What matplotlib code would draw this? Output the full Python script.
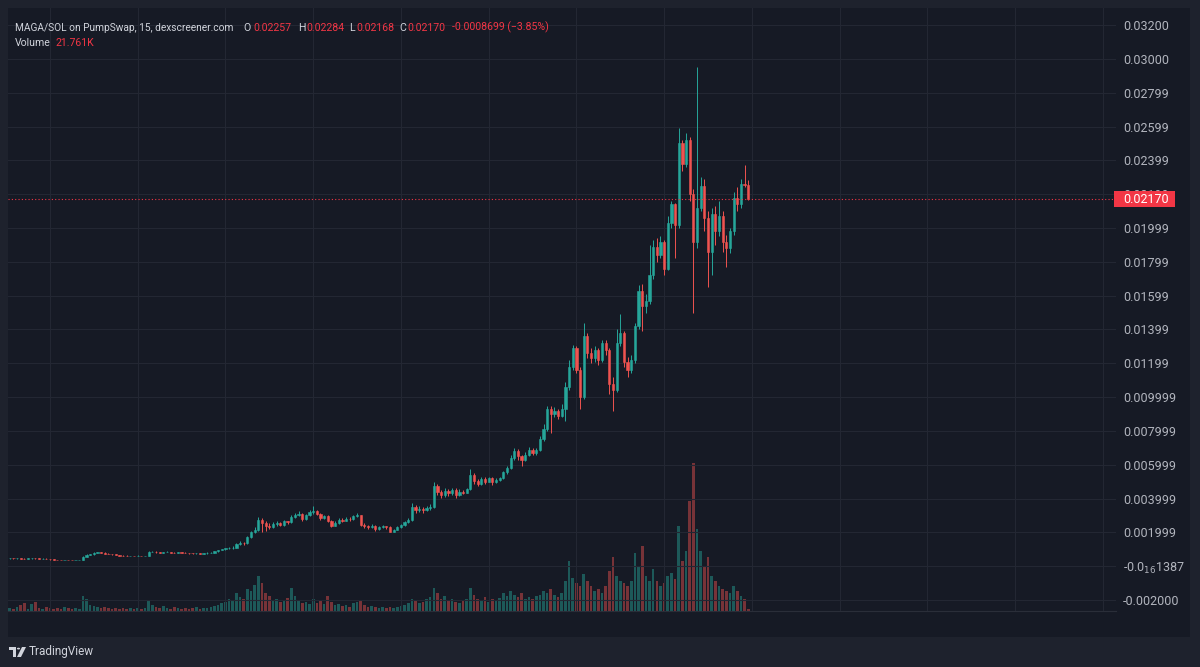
import numpy as np
import matplotlib
matplotlib.use('Agg')
import matplotlib.pyplot as plt
from matplotlib.patches import Rectangle, Polygon, Circle
from matplotlib import transforms

plt.rcParams['font.family'] = ['Roboto', 'DejaVu Sans']

# 30 min candles, prices in thousandths of SOL (x1e-3)
first_open_m = 0.47
close_m = [0.47, 0.46, 0.47, 0.45, 0.44, 0.46, 0.47, 0.46, 0.45, 0.45,
           0.44, 0.40, 0.38, 0.37, 0.36, 0.37, 0.36, 0.35, 0.36, 0.37,
           0.55, 0.68, 0.70, 0.80, 0.82, 0.80, 0.74, 0.72, 0.70, 0.68,
           0.63, 0.62, 0.60, 0.61, 0.60, 0.62, 0.60, 0.61, 0.85, 0.86,
           0.82, 0.80, 0.83, 0.85, 0.80, 0.78, 0.82, 0.80, 0.78, 0.77,
           0.76, 0.78, 0.75, 0.77, 0.78, 0.80, 0.88, 0.95, 1.00, 1.05,
           1.08, 1.10, 1.30, 1.38, 1.35, 1.70, 2.00, 2.15, 2.75, 2.55,
           2.35, 2.30, 2.50, 2.55, 2.45, 2.65, 2.60, 2.90, 3.05, 3.10,
           2.80, 3.00, 3.20, 3.25, 3.10, 2.85, 2.95, 2.70, 2.40, 2.55,
           2.75, 2.70, 2.80, 2.78, 2.95, 3.00, 2.45, 2.35, 2.30, 2.40,
           2.20, 2.30, 2.35, 2.30, 2.05, 2.15, 2.30, 2.45, 2.60, 2.75,
           3.50, 3.30, 3.40, 3.30, 3.45, 3.50, 4.75, 4.40, 4.20, 4.45,
           4.30, 4.50, 4.20, 4.40, 4.35, 4.55, 5.40, 5.05, 4.85, 5.15,
           5.00, 5.20, 4.95, 5.10, 5.20, 5.55, 5.80, 6.40, 6.80, 6.50,
           6.30, 6.60, 6.90, 6.70, 6.85, 7.50, 8.10, 9.30, 9.00, 9.20,
           8.90, 9.30, 10.60, 11.80, 12.90, 11.60, 10.00, 13.60, 12.60, 12.30,
           12.80, 12.20, 13.20, 12.80, 10.80, 10.40, 13.20, 13.80, 12.10, 11.60,
           12.20, 14.20, 16.30, 15.40, 15.70, 17.20, 18.90, 18.40, 19.20, 17.60,
           20.30, 21.40, 20.20, 25.00, 23.80, 25.20, 22.00, 19.20, 21.20, 22.50,
           20.60, 18.60, 20.80, 19.80, 20.70, 19.20, 18.80, 19.80, 21.80, 21.40,
           22.60, 22.57, 21.70]
high_m = [0.49, 0.48, 0.49, 0.48, 0.46, 0.48, 0.49, 0.48, 0.47, 0.47,
          0.46, 0.45, 0.41, 0.39, 0.38, 0.39, 0.38, 0.37, 0.38, 0.39,
          0.58, 0.70, 0.74, 0.84, 0.86, 0.84, 0.81, 0.76, 0.74, 0.72,
          0.69, 0.65, 0.64, 0.63, 0.62, 0.64, 0.63, 0.63, 0.90, 0.90,
          0.88, 0.84, 0.86, 0.88, 0.86, 0.82, 0.85, 0.84, 0.82, 0.80,
          0.79, 0.80, 0.79, 0.79, 0.81, 0.83, 0.92, 0.98, 1.04, 1.10,
          1.12, 1.20, 1.36, 1.48, 1.45, 1.76, 2.08, 2.30, 2.90, 2.85,
          2.65, 2.55, 2.60, 2.65, 2.62, 2.72, 2.70, 3.00, 3.15, 3.25,
          3.15, 3.10, 3.30, 3.55, 3.35, 3.15, 3.05, 3.00, 2.75, 2.65,
          2.85, 2.85, 2.88, 2.88, 3.05, 3.12, 3.05, 2.55, 2.45, 2.48,
          2.45, 2.38, 2.42, 2.40, 2.35, 2.20, 2.35, 2.50, 2.70, 2.85,
          3.75, 3.60, 3.55, 3.50, 3.55, 3.65, 4.95, 4.85, 4.50, 4.60,
          4.55, 4.60, 4.60, 4.55, 4.50, 4.65, 5.75, 5.50, 5.15, 5.30,
          5.25, 5.30, 5.25, 5.20, 5.30, 5.65, 5.95, 6.55, 7.00, 6.95,
          6.60, 6.75, 7.05, 7.00, 7.00, 7.70, 8.40, 9.50, 9.45, 9.40,
          9.30, 9.60, 10.90, 12.20, 13.10, 13.00, 11.80, 14.40, 13.80, 12.90,
          13.00, 12.90, 13.40, 13.40, 12.90, 11.20, 14.00, 14.90, 13.90, 12.40,
          12.50, 14.40, 16.60, 16.70, 16.10, 19.00, 19.30, 19.40, 19.50, 19.30,
          20.70, 21.60, 21.50, 25.90, 25.20, 25.60, 25.40, 22.30, 29.50, 23.00,
          22.90, 21.00, 21.20, 21.30, 21.60, 21.00, 19.60, 20.00, 22.10, 22.40,
          22.90, 23.70, 22.84]
low_m = [0.45, 0.45, 0.45, 0.44, 0.43, 0.43, 0.45, 0.45, 0.44, 0.44,
         0.42, 0.38, 0.36, 0.35, 0.35, 0.35, 0.34, 0.34, 0.34, 0.35,
         0.36, 0.54, 0.66, 0.69, 0.78, 0.77, 0.72, 0.70, 0.68, 0.66,
         0.61, 0.60, 0.58, 0.58, 0.58, 0.59, 0.58, 0.59, 0.60, 0.82,
         0.80, 0.78, 0.78, 0.81, 0.78, 0.76, 0.77, 0.78, 0.76, 0.75,
         0.74, 0.74, 0.73, 0.73, 0.75, 0.76, 0.78, 0.86, 0.93, 0.97,
         1.02, 1.04, 1.08, 1.25, 1.25, 1.32, 1.65, 1.95, 2.10, 2.05,
         2.10, 2.20, 2.25, 2.40, 2.35, 2.40, 2.50, 2.55, 2.85, 2.95,
         2.70, 2.75, 2.95, 3.10, 3.00, 2.75, 2.80, 2.60, 2.30, 2.35,
         2.50, 2.62, 2.65, 2.70, 2.75, 2.90, 2.35, 2.25, 2.20, 2.25,
         2.10, 2.15, 2.25, 2.22, 2.00, 2.00, 2.12, 2.25, 2.40, 2.55,
         2.70, 3.15, 3.20, 3.15, 3.25, 3.35, 3.45, 4.20, 4.05, 4.10,
         4.15, 4.20, 4.05, 4.15, 4.25, 4.30, 4.50, 4.85, 4.75, 4.80,
         4.85, 4.95, 4.80, 4.90, 5.05, 5.15, 5.45, 5.75, 6.30, 6.30,
         5.90, 6.20, 6.50, 6.55, 6.60, 6.80, 7.40, 8.00, 7.90, 8.80,
         8.70, 8.80, 8.60, 10.40, 11.60, 11.40, 9.30, 9.90, 12.30, 12.00,
         12.10, 11.90, 12.10, 12.50, 10.20, 9.20, 10.30, 13.00, 11.80, 11.20,
         11.40, 12.00, 14.00, 13.90, 15.00, 15.50, 17.00, 18.00, 18.20, 17.20,
         17.50, 20.00, 18.20, 20.00, 23.40, 23.60, 21.60, 15.00, 18.80, 21.00,
         19.80, 16.50, 17.20, 19.00, 19.50, 18.60, 17.70, 18.50, 19.60, 21.00,
         21.20, 22.40, 21.68]
vol_k = [30, 20, 40, 60, 80, 20, 70, 90, 30, 20,
         40, 30, 20, 30, 20, 40, 30, 20, 30, 20,
         150, 120, 60, 50, 40, 30, 40, 30, 20, 30,
         20, 30, 20, 30, 20, 30, 20, 30, 100, 60,
         40, 30, 50, 30, 20, 40, 30, 20, 30, 20,
         30, 40, 20, 30, 30, 40, 50, 60, 80, 90,
         120, 100, 180, 140, 120, 220, 200, 260, 350, 280,
         180, 150, 100, 120, 90, 100, 130, 230, 150, 100,
         80, 90, 70, 120, 80, 100, 70, 150, 90, 60,
         70, 50, 60, 40, 80, 90, 100, 60, 40, 50,
         40, 30, 40, 30, 40, 30, 40, 50, 60, 80,
         120, 100, 80, 90, 120, 140, 230, 180, 120, 150,
         100, 120, 90, 80, 100, 120, 230, 160, 120, 100,
         140, 90, 120, 100, 130, 180, 150, 200, 160, 140,
         180, 120, 140, 120, 150, 160, 200, 180, 220, 160,
         140, 180, 300, 500, 330, 280, 250, 370, 300, 250,
         200, 220, 180, 250, 400, 540, 350, 300, 280, 250,
         300, 580, 450, 650, 350, 300, 420, 300, 250, 280,
         350, 380, 320, 850, 500, 600, 1100, 1480, 820, 600,
         450, 540, 350, 300, 250, 220, 200, 180, 250, 200,
         150, 120, 22]

# hours counted from 18th 00:00
start_hour = 6.5
step_hour = 0.5

price_ticks = [-0.002, 0.0, 0.002, 0.004, 0.006, 0.008, 0.010, 0.012, 0.014,
               0.016, 0.018, 0.020, 0.022, 0.024, 0.026, 0.028, 0.030, 0.032]
price_labels = ['-0.002000', '-0.0$_{16}$1387', '0.001999', '0.003999', '0.005999',
                '0.007999', '0.009999', '0.01199', '0.01399', '0.01599', '0.01799',
                '0.01999', '0.02199', '0.02399', '0.02599', '0.02799', '0.03000', '0.03200']
time_ticks = [12, 24, 36, 48, 60, 72, 84, 96, 108, 120, 132, 144, 156]
time_labels = ['12:00', '19', '12:00', '20', '12:00', '21', '12:00', '22',
               '12:00', '23', '12:00', '24', '12:00']
last_price = 0.02170

BG = '#1e222d'
PANEL = '#161a25'
GRID = '#232733'
UP = '#26a69a'
DOWN = '#ef5350'
RED = '#f23645'
TXT = '#d1d4dc'
AXT = '#b2b5be'

W, H = 1200, 667
def fx(x):
    return x / W
def fy(y):
    return 1 - y / H

c = np.array(close_m) / 1000
hi = np.array(high_m) / 1000
lo = np.array(low_m) / 1000
o = np.concatenate([[first_open_m / 1000], c[:-1]])
t = start_hour + step_hour * np.arange(len(c))
up = c >= o
cols = np.where(up, UP, DOWN)

fig = plt.figure(figsize=(12, 6.67), dpi=100, facecolor=BG)
fig.patches.append(Rectangle((fx(8), fy(637)), fx(1190) - fx(8), fy(8) - fy(637),
                             transform=fig.transFigure, facecolor=PANEL,
                             edgecolor='none', zorder=0))

xlim = (6.26, 157.8)
ylim = (-0.00265, 0.03301)
rect = [fx(8), fy(611), fx(1116) - fx(8), fy(8) - fy(611)]

vax = fig.add_axes(rect, zorder=1)
ax = fig.add_axes(rect, zorder=2)
for a in (vax, ax):
    a.set_facecolor('none')
    a.set_xlim(*xlim)
    for s in a.spines.values():
        s.set_visible(False)
ax.set_ylim(*ylim)

# grid under everything
for yv in price_ticks:
    vax.plot(xlim, [yv, yv], color=GRID, lw=0.8, transform=ax.transData)
for xv in time_ticks:
    vax.axvline(xv, color=GRID, lw=0.8)

# volume
vax.bar(t, vol_k, width=0.36, color=cols, alpha=0.45, linewidth=0)
vax.set_ylim(0, 6030)
vax.set_xticks([])
vax.set_yticks([])

# candles
ax.vlines(t, lo, hi, colors=cols, lw=0.7)
ax.bar(t, np.abs(c - o), bottom=np.minimum(o, c), width=0.3, color=cols,
       edgecolor=cols, linewidth=0.4)

ax.axhline(last_price, color=RED, lw=0.8, ls=(0, (1, 2)))

ax.set_xticks([])
ax.yaxis.tick_right()
ax.set_yticks(price_ticks)
ax.set_yticklabels(price_labels)
ax.tick_params(axis='y', length=0, pad=5, labelcolor=AXT, labelsize=9)

# last price tag (covers the 0.02199 label like in the original)
blend = transforms.blended_transform_factory(fig.transFigure, ax.transData)
tag_h = 16 * (ylim[1] - ylim[0]) / 603
ax.add_patch(Rectangle((fx(1114), last_price - tag_h / 2), fx(1175) - fx(1114), tag_h,
                       transform=blend, facecolor=RED, edgecolor='none',
                       clip_on=False, zorder=10))
ax.text(fx(1123), last_price, '0.02170', transform=blend, color='white',
        fontsize=9, va='center', ha='left', clip_on=False, zorder=11)

# time axis
tax = fig.add_axes([fx(8), fy(637), fx(1116) - fx(8), fy(611) - fy(637)])
tax.set_xlim(*xlim)
tax.set_ylim(0, 1)
tax.axis('off')
for xv, lab in zip(time_ticks, time_labels):
    day = ':' not in lab
    tax.text(xv, 0.5, lab, ha='center', va='center', fontsize=9,
             color=TXT if day else AXT, fontweight='bold' if day else 'normal',
             clip_on=True)
fig.add_artist(plt.Line2D([fx(8), fx(1116)], [fy(611), fy(611)],
                          transform=fig.transFigure, color='#2a2e39', lw=0.8))

# legend header
hs = 7.6
hy = fy(27.6)
fig.text(fx(15), hy, 'MAGA/SOL on PumpSwap, 15, dexscreener.com', color=TXT,
         fontsize=7.3, va='center')
for lx, lab, vx, val in [(243, 'O', 253, '0.02257'), (298, 'H', 306, '0.02284'),
                         (349, 'L', 356, '0.02168'), (399, 'C', 407, '0.02170')]:
    fig.text(fx(lx), hy, lab, color=TXT, fontsize=hs, va='center')
    fig.text(fx(vx), hy, val, color=RED, fontsize=hs, va='center')
fig.text(fx(452), hy, '-0.0008699 (\u22123.85%)', color=RED, fontsize=hs, va='center')
fig.text(fx(15), fy(43), 'Volume', color=TXT, fontsize=hs, va='center')
fig.text(fx(56), fy(43), '21.761K', color=RED, fontsize=hs, va='center')

# TradingView footer
logo = '#d1d4dc'
fig.patches.append(Polygon([(fx(9), fy(647)), (fx(16), fy(647)), (fx(16), fy(657)),
                            (fx(13), fy(657)), (fx(13), fy(650)), (fx(9), fy(650))],
                           closed=True, transform=fig.transFigure, facecolor=logo,
                           edgecolor='none'))
fig.patches.append(Circle((fx(18.5), fy(648.6)), 1.6 / W, transform=fig.transFigure,
                          facecolor=logo, edgecolor='none'))
fig.patches.append(Polygon([(fx(22), fy(647)), (fx(26), fy(647)), (fx(21), fy(657)),
                            (fx(17), fy(657))], closed=True, transform=fig.transFigure,
                           facecolor=logo, edgecolor='none'))
fig.text(fx(29), fy(652), 'TradingView', color=logo, fontsize=8.5, va='center')

fig.savefig('out.png', dpi=100, facecolor=BG)
